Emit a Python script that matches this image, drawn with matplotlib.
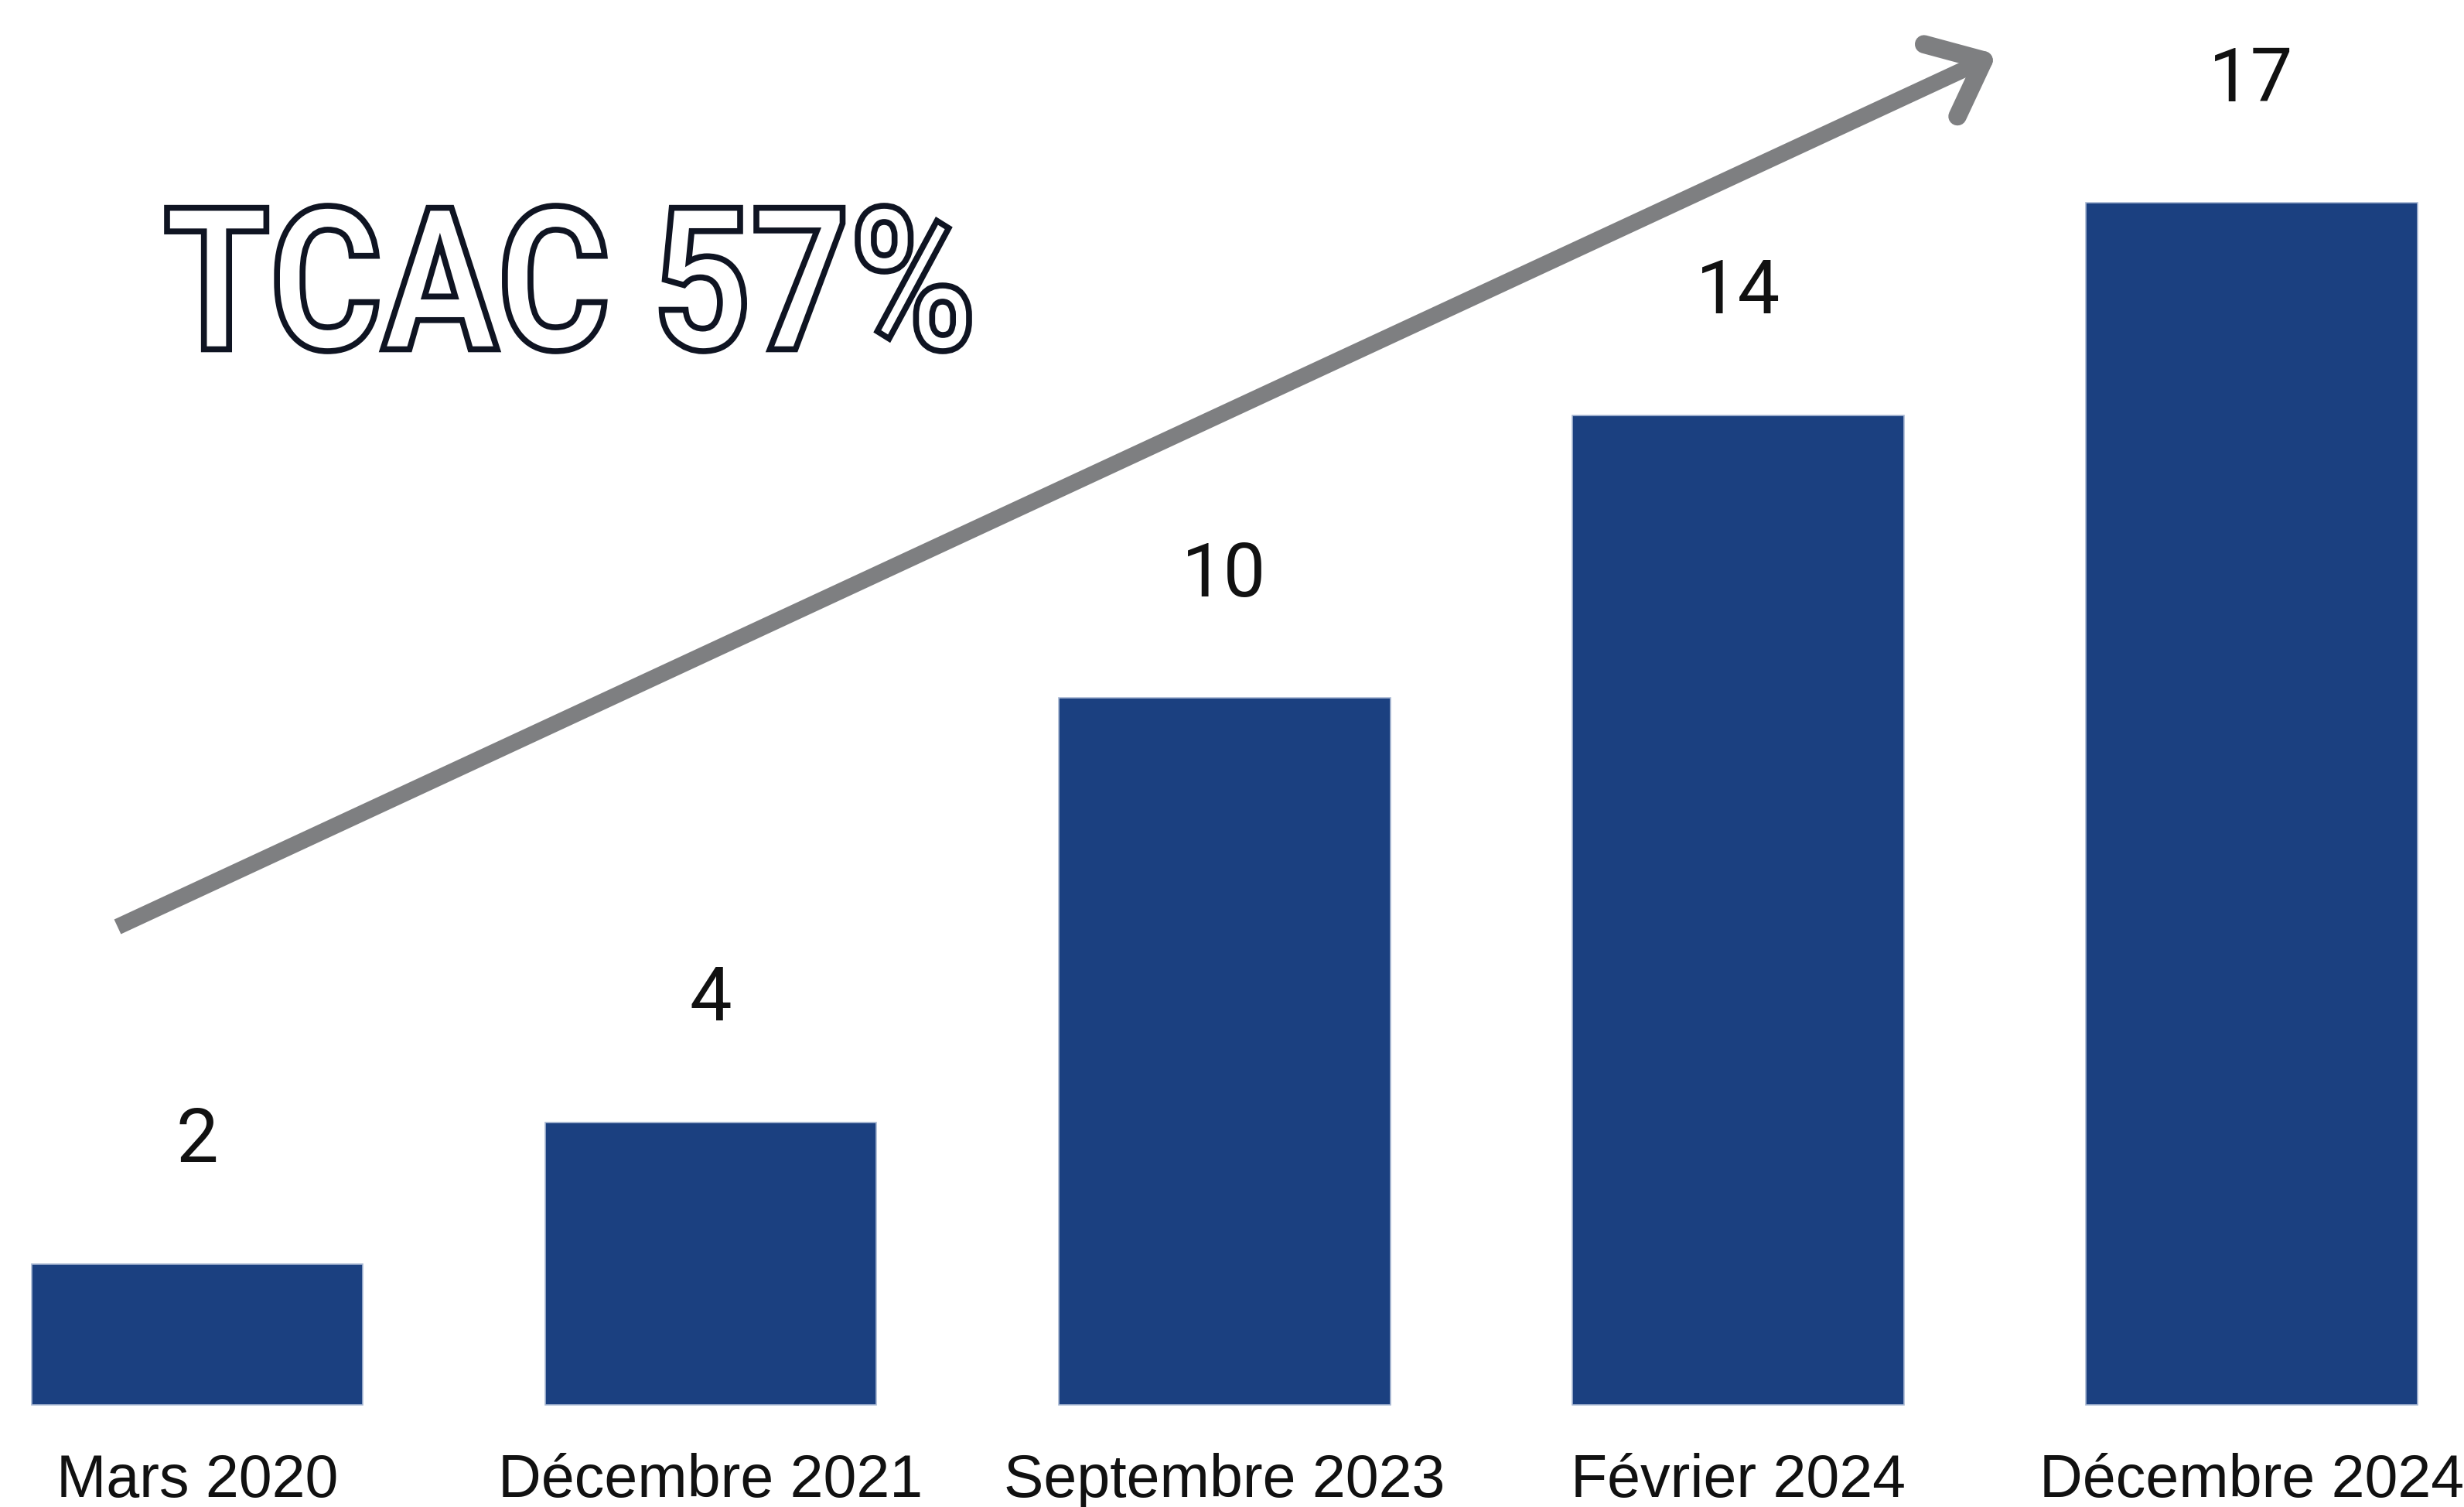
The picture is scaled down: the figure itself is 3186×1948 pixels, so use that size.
import numpy as np
import matplotlib
matplotlib.use("Agg")
import matplotlib.pyplot as plt
from matplotlib.textpath import TextPath
from matplotlib.font_manager import FontProperties
from matplotlib.patches import PathPatch
from matplotlib.transforms import Affine2D

# data
categories = ["Mars 2020", "Décembre 2021", "Septembre 2023", "Février 2024", "Décembre 2024"]
values = [2, 4, 10, 14, 17]
cagr_label = "TCAC 57%"

W, H = 3186, 1949
fig = plt.figure(figsize=(W / 100, H / 100), dpi=100)
fig.patch.set_facecolor("white")

ax = fig.add_axes([0, 0, 1, 1])
x = np.arange(len(categories))
ax.bar(x, values, width=0.646, color="#1b4080", edgecolor="#a9b9d3", linewidth=1.2)
ax.set_xlim(-0.384, 4.414)
ax.set_ylim(-1.44, 19.88)
ax.axis("off")

for xi, v in zip(x, values):
    ax.annotate(str(v), xy=(xi, v), xytext=(0, 114), textcoords="offset points",
                ha="center", va="center", fontsize=70, family="Roboto", color="#111111")

for xi, c in zip(x, categories):
    ax.text(xi, -1.06, c, ha="center", va="center", fontsize=55.5,
            family="Liberation Sans", color="#111111")

# overlay in pixel coords for the arrow and the outlined title
ov = fig.add_axes([0, 0, 1, 1])
ov.set_xlim(0, W)
ov.set_ylim(0, H)
ov.axis("off")
ov.patch.set_alpha(0)

gray = "#7e7f81"
start = np.array([152.0, H - 1199.0])
tip = np.array([2565.0, H - 79.0])
ov.plot([start[0], tip[0]], [start[1], tip[1]], color=gray, lw=15, solid_capstyle="butt")
d = (tip - start) / np.linalg.norm(tip - start)
for ang in (np.radians(40), -np.radians(40)):
    rot = np.array([[np.cos(ang), -np.sin(ang)], [np.sin(ang), np.cos(ang)]])
    end = tip - 80 * rot.dot(d)
    ov.plot([tip[0], end[0]], [tip[1], end[1]], color=gray, lw=17, solid_capstyle="round")

# outlined "TCAC 57%" text, stretched to fit its box
fp = FontProperties(family="Roboto", weight="bold")
tp = TextPath((0, 0), cagr_label, size=100, prop=fp)
ext = tp.get_extents()
x0, x1 = 216, 1253
y0, y1 = H - 455, H - 267
tr = Affine2D().translate(-ext.x0, -ext.y0).scale((x1 - x0) / ext.width, (y1 - y0) / ext.height).translate(x0, y0)
ov.add_patch(PathPatch(tr.transform_path(tp), facecolor="white", edgecolor="#0f1422", lw=5.5,
                       transform=ov.transData))

fig.savefig("out.png", dpi=100)
